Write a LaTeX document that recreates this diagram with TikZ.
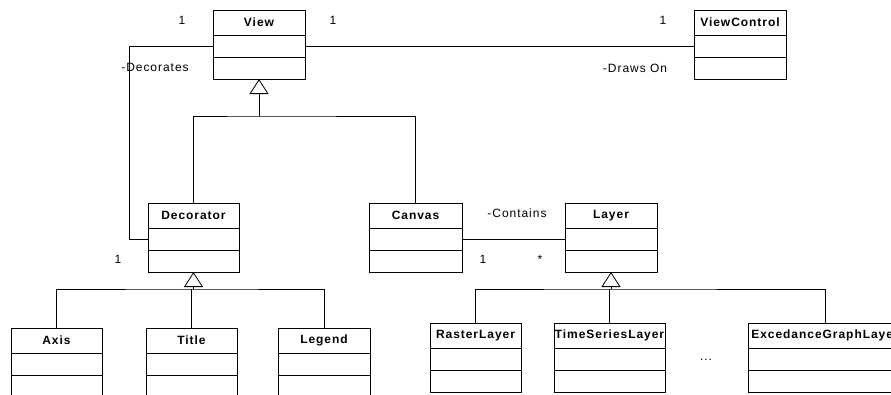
\documentclass[tikz,border=0pt]{standalone}
\usepackage{fontspec}
\setmainfont{Liberation Sans}[LetterSpace=8]
\usetikzlibrary{arrows.meta}

% one UML class: name, centre x, top y, width, title
\newcommand{\classbox}[5]{%
  \node[cname,minimum width=#4pt,anchor=north] (#1) at (#2,#3) {#5};
  \node[cpart,minimum width=#4pt,anchor=north] (#1-a) at (#1.south) {};
  \node[cpart,minimum width=#4pt,anchor=north] (#1-o) at (#1-a.south) {};
}

\begin{document}
\begin{tikzpicture}[x=1pt,y=-1pt,line width=0.8pt,
  cname/.style={draw,fill=white,outer sep=0pt,inner xsep=0pt,minimum height=25pt,font=\bfseries\fontsize{12}{14}\selectfont},
  cpart/.style={draw,fill=white,outer sep=0pt,minimum height=22pt},
  lbl/.style={inner sep=0pt,font=\fontsize{12}{14}\selectfont},
  gen/.style={-{Triangle[open,length=15pt,width=19pt]}}]
\clip (0,0) rectangle (891,394);
\classbox{View}{259}{10}{92}{View}
\classbox{ViewControl}{740}{10}{92}{ViewControl}
\classbox{Decorator}{193.5}{203}{91}{Decorator}
\classbox{Canvas}{415.5}{203}{93}{Canvas}
\classbox{Layer}{611}{203}{92}{Layer}
\classbox{Axis}{56.5}{328}{91}{Axis}
\classbox{Title}{191.5}{328}{91}{Title}
\classbox{Legend}{324}{328}{92}{Legend}
\classbox{RasterLayer}{475.5}{323}{91}{RasterLayer}
\classbox{TimeSeriesLayer}{609.5}{323}{111}{TimeSeriesLayer}
\classbox{ExcedanceGraphLayer}{825}{323}{154}{ExcedanceGraphLayer}
% junctions of the generalisations
\coordinate (vj) at (259,116);
\coordinate (dj) at (193.5,289);
\coordinate (lj) at (611,289);
% generalisations
\draw[gen] (vj) -- (View-o.south);
\draw (Decorator.north) |- (vj) -| (Canvas.north);
\draw[gen] (dj) -- (Decorator-o.south);
\draw (Axis.north) |- (dj) -| (Legend.north);
\draw (Title.north) -- (Title.north |- dj);
\draw[gen] (lj) -- (Layer-o.south);
\draw (RasterLayer.north) |- (lj) -| (ExcedanceGraphLayer.north);
\draw (TimeSeriesLayer.north) -- (TimeSeriesLayer.north |- lj);
% associations
\draw (View-a.west) -- ++(-84,0) |- (Decorator-a.west);
\draw (View-a.east) -- (ViewControl-a.west);
\draw (Canvas-a.east) -- (Layer-a.west);
% multiplicities and roles
\node[lbl] (vdm) at (182,20) {1};
\node[lbl] (dvm) at (118,259) {1};
\node[lbl] (dec) at (155,67) {-Decorates};
\node[lbl] (vcm) at (333,20) {1};
\node[lbl] (cvm) at (663,20) {1};
\node[lbl] (drw) at (635,68) {-Draws On};
\node[lbl] (con) at (517,213) {-Contains};
\node[lbl] (clm) at (483,259) {1};
\node[lbl] (lcm) at (540,259) {*};
\node[lbl] (more) at (706,360) {...};
\end{tikzpicture}
\end{document}
